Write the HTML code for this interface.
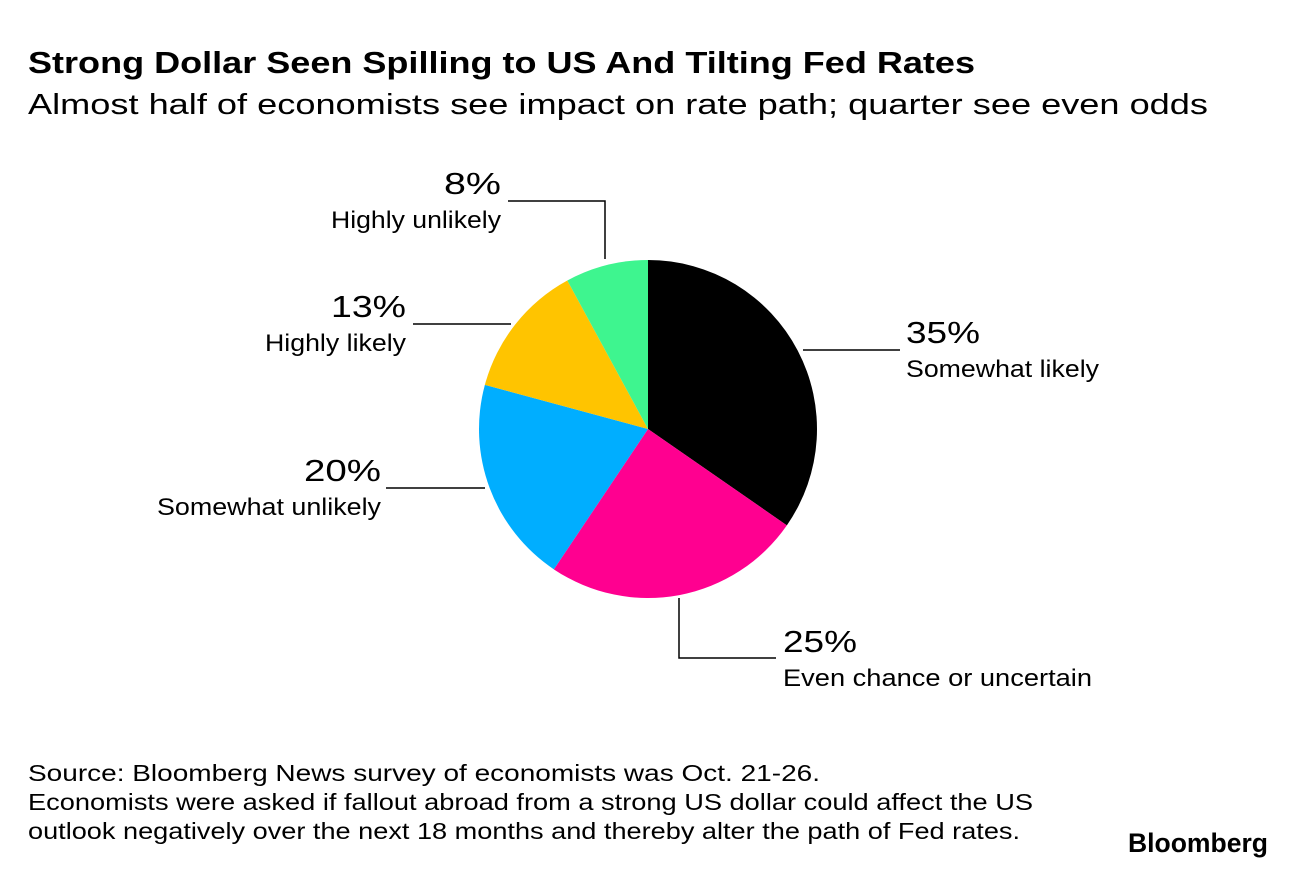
<!DOCTYPE html>
<html><head><meta charset="utf-8"><style>
body{margin:0;background:#fff;font-family:"Liberation Sans",Arial,sans-serif;}
#wrap{position:relative;width:1296px;height:870px;overflow:hidden;}
</style></head><body>
<div id="wrap">
<svg id="svg" width="1296" height="870" xmlns="http://www.w3.org/2000/svg" font-family="Liberation Sans, Arial, sans-serif">
<text x="28" y="73" font-size="31" font-weight="bold" fill="#000" textLength="947" lengthAdjust="spacingAndGlyphs">Strong Dollar Seen Spilling to US And Tilting Fed Rates</text>
<text x="28" y="114" font-size="29" fill="#000" textLength="1180" lengthAdjust="spacingAndGlyphs">Almost half of economists see impact on rate path; quarter see even odds</text>
<g id="pie"></g>
<g id="labels" fill="#000">
<polyline points="803,350 900,350" stroke="#000" stroke-width="1.5" fill="none"/>
<text x="906" y="343" font-size="31" textLength="74" lengthAdjust="spacingAndGlyphs">35%</text>
<text x="906" y="377" font-size="24" textLength="193" lengthAdjust="spacingAndGlyphs">Somewhat likely</text>
<polyline points="679,598 679,658 776,658" stroke="#000" stroke-width="1.5" fill="none"/>
<text x="783" y="652" font-size="31" textLength="74" lengthAdjust="spacingAndGlyphs">25%</text>
<text x="783" y="686" font-size="24" textLength="309" lengthAdjust="spacingAndGlyphs">Even chance or uncertain</text>
<polyline points="386,488 485,488" stroke="#000" stroke-width="1.5" fill="none"/>
<text x="304" y="481" font-size="31" textLength="77" lengthAdjust="spacingAndGlyphs">20%</text>
<text x="157" y="515" font-size="24" textLength="224" lengthAdjust="spacingAndGlyphs">Somewhat unlikely</text>
<polyline points="413,324 511,324" stroke="#000" stroke-width="1.5" fill="none"/>
<text x="331" y="317" font-size="31" textLength="75" lengthAdjust="spacingAndGlyphs">13%</text>
<text x="265" y="351" font-size="24" textLength="141" lengthAdjust="spacingAndGlyphs">Highly likely</text>
<polyline points="508,201 605,201 605,259" stroke="#000" stroke-width="1.5" fill="none"/>
<text x="444" y="194" font-size="31" textLength="57" lengthAdjust="spacingAndGlyphs">8%</text>
<text x="331" y="228" font-size="24" textLength="170" lengthAdjust="spacingAndGlyphs">Highly unlikely</text>
</g>
<text x="28" y="781" font-size="23" textLength="792" lengthAdjust="spacingAndGlyphs">Source: Bloomberg News survey of economists was Oct. 21-26.</text>
<text x="28" y="810" font-size="23" textLength="1005" lengthAdjust="spacingAndGlyphs">Economists were asked if fallout abroad from a strong US dollar could affect the US</text>
<text x="28" y="839" font-size="23" textLength="992" lengthAdjust="spacingAndGlyphs">outlook negatively over the next 18 months and thereby alter the path of Fed rates.</text>
<text x="1128" y="852" font-size="27" font-weight="bold" textLength="140" lengthAdjust="spacingAndGlyphs">Bloomberg</text>
</svg>
</div>
<script>
const categories=["Somewhat likely","Even chance or uncertain","Somewhat unlikely","Highly likely","Highly unlikely"];
const values=[35,25,20,13,8];
const colors=["#000000","#ff0090","#00aeff","#ffc400","#3ef58f"];
const cx=648,cy=429,r=169;
const total=values.reduce((a,b)=>a+b,0);
const g=document.getElementById('pie');
let acc=0;
function pt(f){const a=f*2*Math.PI;return [cx+r*Math.sin(a),cy-r*Math.cos(a)];}
values.forEach((v,i)=>{
  const f0=acc/total,f1=(acc+v)/total;acc+=v;
  const p0=pt(f0),p1=pt(f1);
  const large=(f1-f0)>0.5?1:0;
  const path=document.createElementNS('http://www.w3.org/2000/svg','path');
  path.setAttribute('d',`M${cx},${cy} L${p0[0]},${p0[1]} A${r},${r} 0 ${large} 1 ${p1[0]},${p1[1]} Z`);
  path.setAttribute('fill',colors[i]);
  
  
  g.appendChild(path);
});
</script>
</body></html>
